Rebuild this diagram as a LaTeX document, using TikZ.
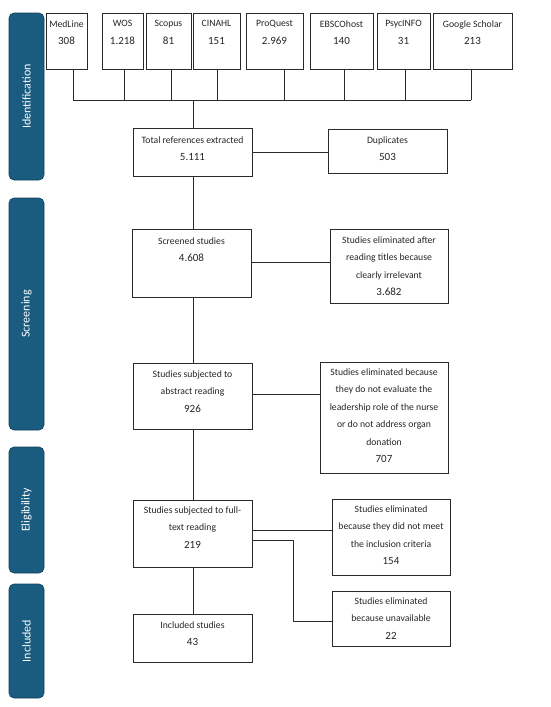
\documentclass[tikz,border=0pt]{standalone}
\usepackage{fontspec}
\setmainfont{Carlito}
\definecolor{bar}{HTML}{1A5B80}
\definecolor{barline}{HTML}{143F5A}
\definecolor{ln}{HTML}{2A2A2A}
\begin{document}
\begin{tikzpicture}[x=1pt,y=-1pt,
  box/.style={draw=ln,line width=0.9pt,inner sep=0pt,fill=white},
  txt/.style={anchor=north,inner sep=0pt,align=center,text=black!85,font=\fontsize{9.7}{17.5}\selectfont,yshift=-2pt},
  con/.style={draw=ln,line width=0.9pt},
  phase/.style={draw=barline,line width=0.6pt,fill=bar,rounded corners=5pt,minimum width=35pt,inner sep=0pt},
  phtxt/.style={rotate=90,text=white,font=\fontsize{12}{14}\selectfont,inner sep=0pt}
]
\useasboundingbox[fill=white] (0,0) rectangle (550,707);
\newcommand\nm[1]{{\fontsize{11}{17.5}\selectfont #1}}

% phase bars
\node[phase,minimum height=167pt] (pid) at (26.5,96.5) {};
\node[phtxt] (pidt) at (pid.center) {Identification};
\node[phase,minimum height=232pt] (psc) at (26.5,314) {};
\node[phtxt] (psct) at (psc.center) {Screening};
\node[phase,minimum height=126pt] (pel) at (26.5,510) {};
\node[phtxt] (pelt) at (pel.center) {Eligibility};
\node[phase,minimum height=114pt] (pin) at (26.5,641) {};
\node[phtxt] (pint) at (pin.center) {Included};

% database boxes
\node[box,minimum width=41pt,minimum height=56pt] (med) at (66.5,41) {};
\node[txt] (medt) at (66.5,18.5) {MedLine\\\nm{308}};
\node[box,minimum width=41pt,minimum height=56pt] (wos) at (122.5,41) {};
\node[txt] (wost) at (122.5,18.5) {WOS\\\nm{1.218}};
\node[box,minimum width=45pt,minimum height=56pt] (sco) at (168.5,41) {};
\node[txt] (scot) at (168.5,18.5) {Scopus\\\nm{81}};
\node[box,minimum width=47pt,minimum height=56pt] (cin) at (216.5,41) {};
\node[txt] (cint) at (216.5,18.5) {CINAHL\\\nm{151}};
\node[box,minimum width=57pt,minimum height=56pt] (pro) at (274.5,41) {};
\node[txt] (prot) at (274.5,18.5) {ProQuest\\\nm{2.969}};
\node[box,minimum width=63pt,minimum height=56pt] (ebs) at (341.5,41) {};
\node[txt] (ebst) at (341.5,18.5) {EBSCOhost\\\nm{140}};
\node[box,minimum width=53pt,minimum height=56pt] (psy) at (403.5,41) {};
\node[txt] (psyt) at (403.5,18.5) {PsycINFO\\\nm{31}};
\node[box,minimum width=79pt,minimum height=56pt] (goo) at (472.5,41) {};
\node[txt] (goot) at (472.5,18.5) {Google Scholar\\\nm{213}};

% bus coordinates
\coordinate (b1) at (73,100);
\coordinate (b2) at (124,100);
\coordinate (b3) at (171,100);
\coordinate (b4) at (217,100);
\coordinate (b5) at (284,100);
\coordinate (b6) at (344,100);
\coordinate (b7) at (405,100);
\coordinate (b8) at (471,100);
\coordinate (bm) at (193,100);

% main boxes
\node[box,minimum width=119pt,minimum height=48pt] (tot) at (192.5,152) {};
\node[txt] (tott) at (192.5,134.5) {Total references extracted\\\nm{5.111}};
\node[box,minimum width=119pt,minimum height=44pt] (dup) at (387.5,151) {};
\node[txt] (dupt) at (387.5,134.5) {Duplicates\\\nm{503}};

\node[box,minimum width=119pt,minimum height=68pt] (scr) at (191.5,263) {};
\node[txt] (scrt) at (191.5,235.5) {Screened studies\\\nm{4.608}};
\node[box,minimum width=118pt,minimum height=74pt] (el1) at (389,266) {};
\node[txt] (el1t) at (389,234.5) {Studies eliminated after\\reading titles because\\clearly irrelevant\\\nm{3.682}};

\node[box,minimum width=119pt,minimum height=66pt] (abs) at (192.5,396) {};
\node[txt] (abst) at (192.5,368.5) {Studies subjected to\\abstract reading\\\nm{926}};
\node[box,minimum width=128pt,minimum height=111pt] (el2) at (384,417.5) {};
\node[txt] (el2t) at (384,366.5) {Studies eliminated because\\they do not evaluate the\\leadership role of the nurse\\or do not address organ\\donation\\\nm{707}};

\node[box,minimum width=119pt,minimum height=67pt] (ful) at (192.5,533.5) {};
\node[txt] (fult) at (192.5,504.5) {Studies subjected to full-\\text reading\\\nm{219}};
\node[box,minimum width=118pt,minimum height=76pt] (el3) at (391,537) {};
\node[txt] (el3t) at (391,503.5) {Studies eliminated\\because they did not meet\\the inclusion criteria\\\nm{154}};
\node[box,minimum width=118pt,minimum height=55pt] (el4) at (391,618.5) {};
\node[txt] (el4t) at (391,595.5) {Studies eliminated\\because unavailable\\\nm{22}};

\node[box,minimum width=119pt,minimum height=48pt] (inc) at (192.5,638) {};
\node[txt] (inct) at (192.5,619.5) {Included studies\\\nm{43}};

% connectors
\draw[con] (med.south -| b1) -- (b1);
\draw[con] (wos.south -| b2) -- (b2);
\draw[con] (sco.south -| b3) -- (b3);
\draw[con] (cin.south -| b4) -- (b4);
\draw[con] (pro.south -| b5) -- (b5);
\draw[con] (ebs.south -| b6) -- (b6);
\draw[con] (psy.south -| b7) -- (b7);
\draw[con] (goo.south -| b8) -- (b8);
\draw[con] (b1) -- (b8);
\draw[con] (bm) -- (bm |- tot.north);

\coordinate (vx) at (193,0);
\draw[con] (tot.south -| vx) -- (scr.north -| vx);
\draw[con] (scr.south -| vx) -- (abs.north -| vx);
\draw[con] (abs.south -| vx) -- (ful.north -| vx);
\draw[con] (ful.south -| vx) -- (inc.north -| vx);

\draw[con] (tot.east) -- (tot.east -| dup.west);
\coordinate (h1) at (0,262);
\draw[con] (scr.east |- h1) -- (el1.west |- h1);
\coordinate (h2) at (0,394);
\draw[con] (abs.east |- h2) -- (el2.west |- h2);
\coordinate (h3) at (0,530);
\draw[con] (ful.east |- h3) -- (el3.west |- h3);
\coordinate (h4) at (293,540);
\coordinate (h5) at (293,621);
\draw[con] (ful.east |- h4) -- (h4) -- (h5) -- (el4.west |- h5);
\end{tikzpicture}
\end{document}
